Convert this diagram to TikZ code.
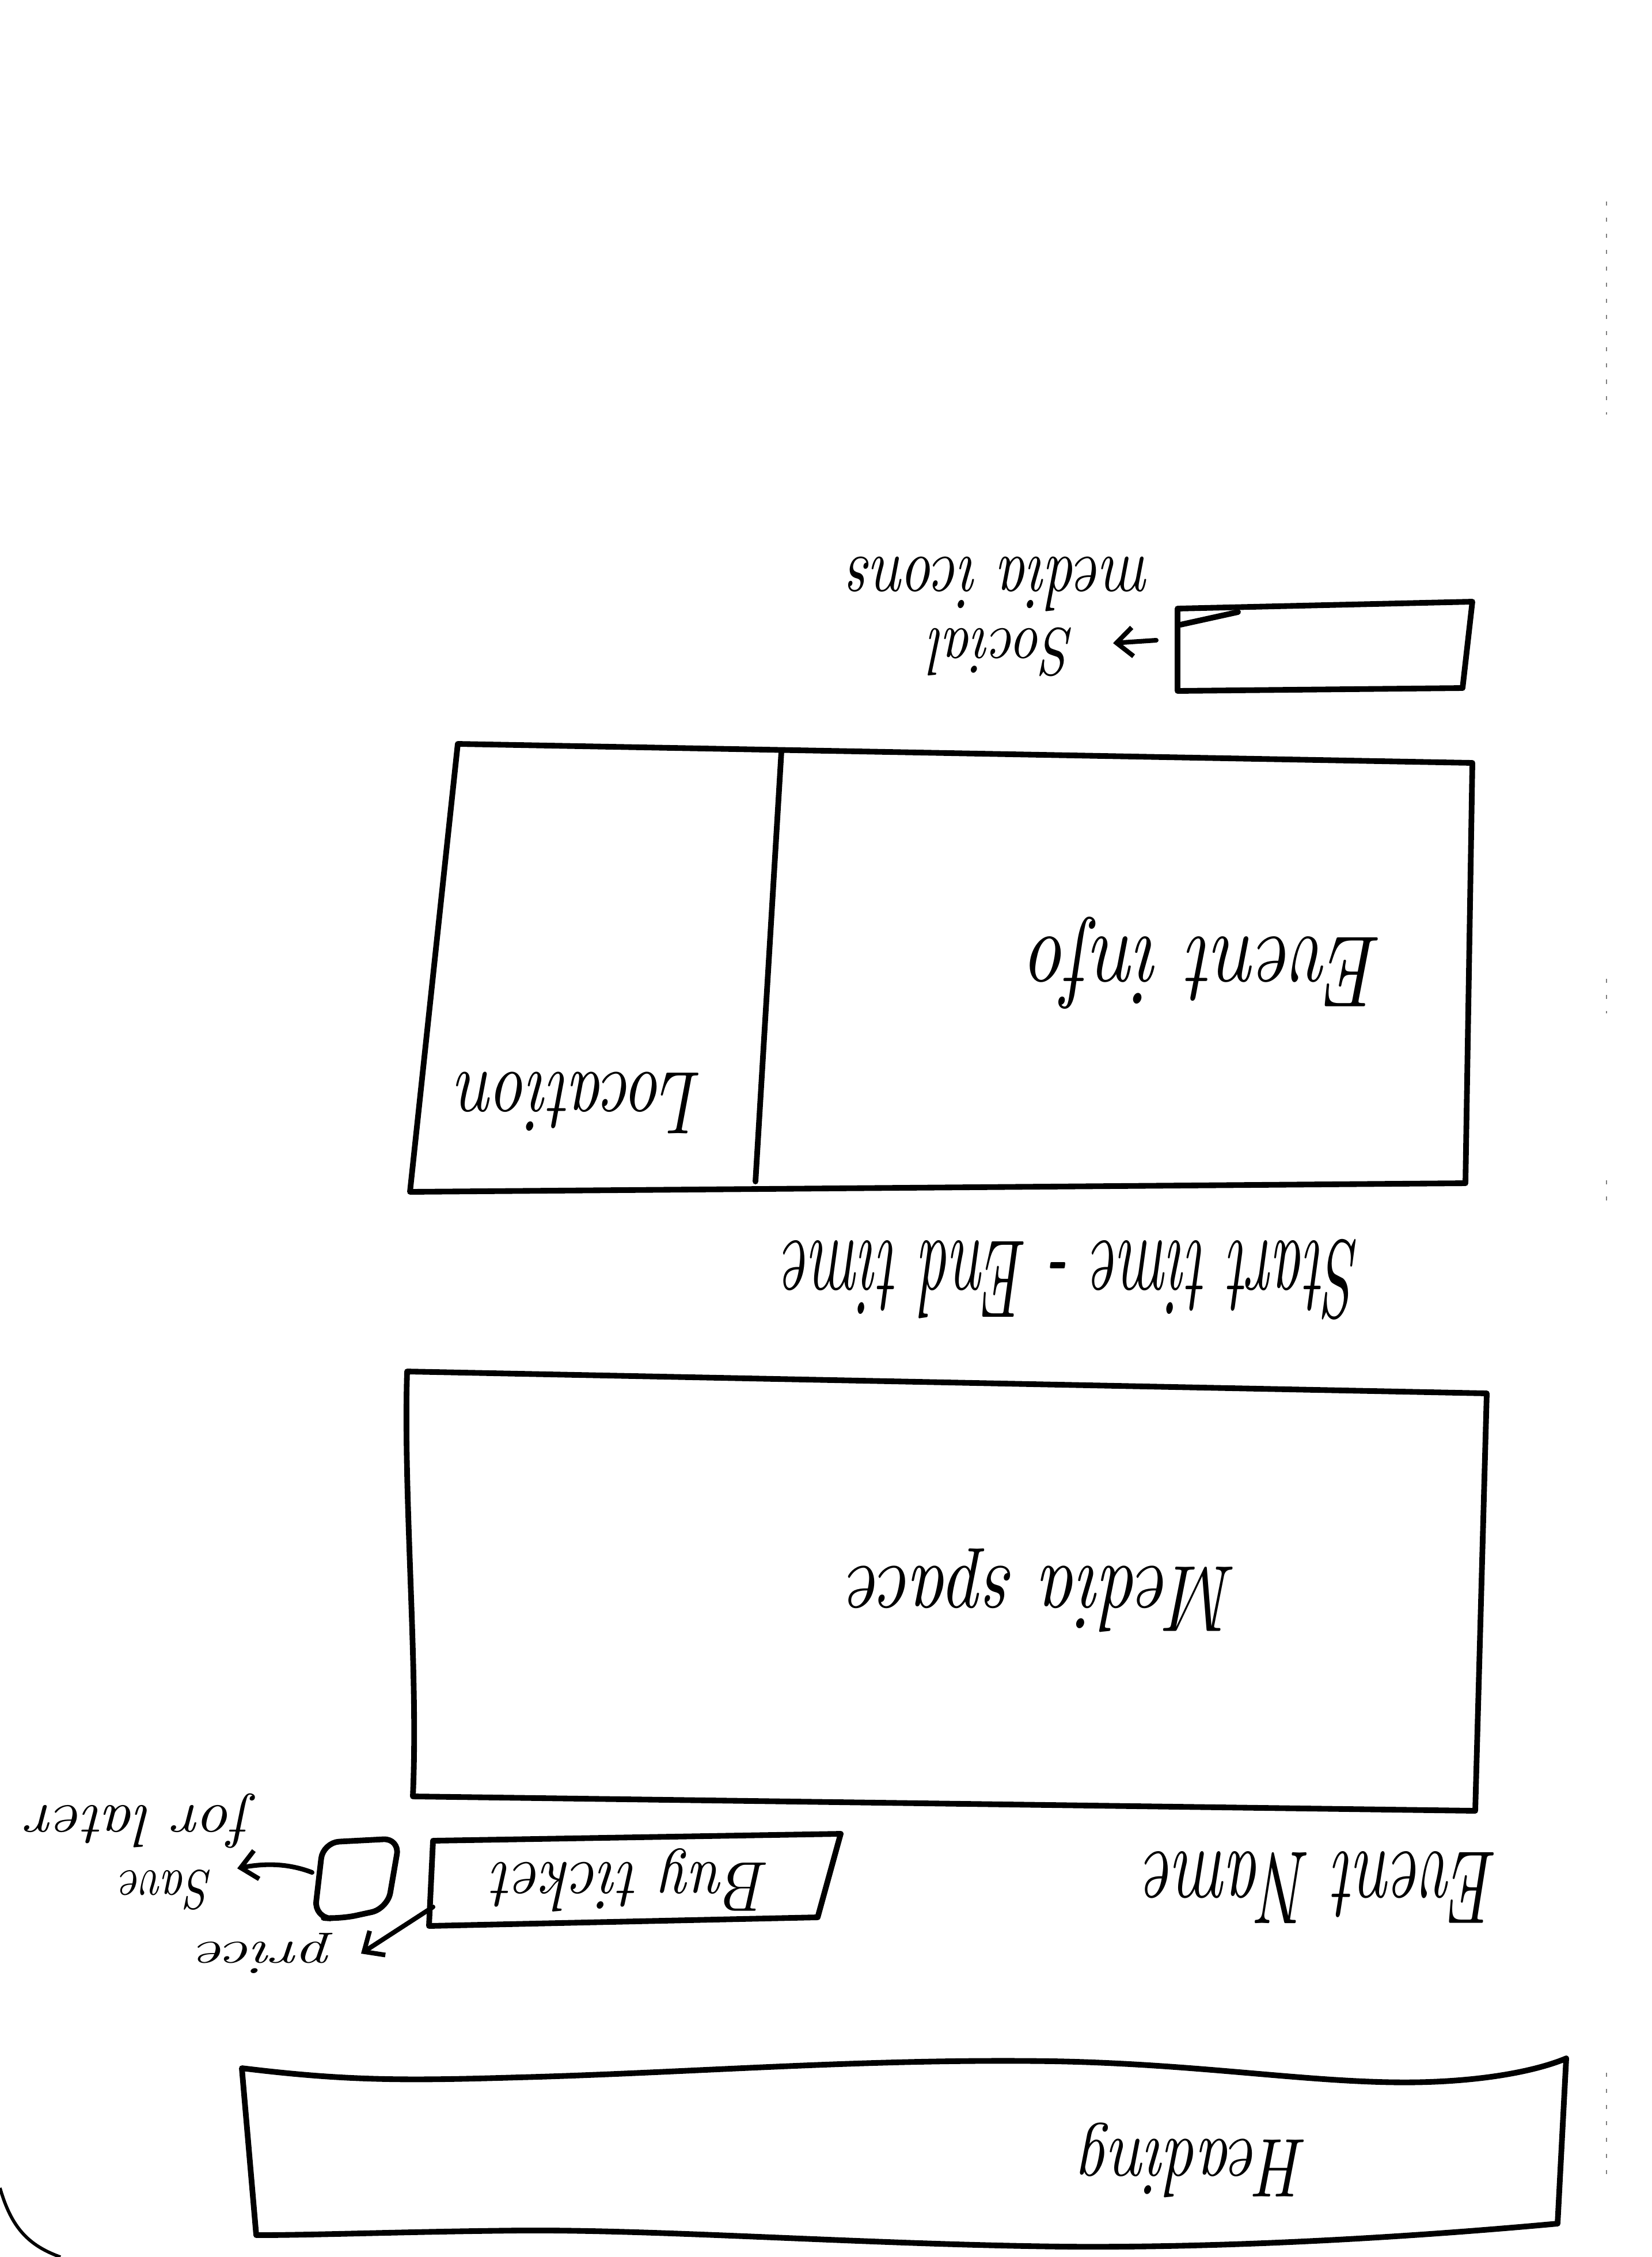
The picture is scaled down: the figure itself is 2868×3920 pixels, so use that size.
\documentclass[tikz,border=0pt]{standalone}
\usetikzlibrary{arrows.meta}
\newcommand\hwtext[3]{\resizebox*{#1}{#2}{\itshape #3}}
\begin{document}
\begin{tikzpicture}[x=0.01cm,y=-0.01cm,
 ink/.style={line width=2.8pt,line cap=round,line join=round},
 pen/.style={line width=2.3pt,line cap=round,line join=round,-{Straight Barb[length=0.28cm,width=0.5cm]}},
 hand/.style={rotate=180,inner sep=0pt},
 faint/.style={line width=0.6pt,gray,dash pattern=on 2pt off 6pt}]
\useasboundingbox[fill=white] (0,0) rectangle (2868,3920);

% page corner and scan marks
\draw[line width=1.6pt] (0,3800) .. controls (20,3870) and (50,3900) .. (105,3920);
\draw[faint] (2790,350) -- (2790,720);
\draw[faint] (2790,1700) -- (2790,1760);
\draw[faint] (2790,2050) -- (2790,2100);
\draw[faint] (2790,3600) -- (2790,3780);

% Heading bar
\coordinate (hTL) at (420,3592);
\coordinate (hTR) at (2720,3575);
\coordinate (hBR) at (2705,3862);
\coordinate (hBL) at (445,3882);
\draw[ink] (hTL) .. controls (600,3614) and (700,3614) .. (900,3608)
  .. controls (1200,3600) and (1500,3575) .. (1830,3580)
  .. controls (2100,3585) and (2300,3622) .. (2480,3616)
  .. controls (2600,3612) and (2680,3592) .. (hTR) -- (hBR)
  .. controls (2400,3890) and (2100,3904) .. (1850,3902)
  .. controls (1500,3898) and (1150,3872) .. (900,3874)
  .. controls (700,3876) and (550,3882) .. (hBL) -- cycle;
\node[hand] (heading) at (2075,3752) {\hwtext{3.92cm}{1.30cm}{Heading}};

% Event name
\node[hand] (evname) at (2295,3278) {\hwtext{6.12cm}{1.25cm}{Event Name}};

% Buy ticket box
\coordinate (bTL) at (752,3197);
\coordinate (bTR) at (1460,3185);
\coordinate (bBR) at (1420,3330);
\coordinate (bBL) at (745,3345);
\draw[ink] (bTL) -- (bTR) -- (bBR) -- (bBL) -- cycle;
\node[hand] (buy) at (1097,3265) {\hwtext{4.8cm}{1.1cm}{Buy ticket}};

% Save square
\coordinate (sTL) at (561,3200);
\coordinate (sTR) at (694,3193);
\coordinate (sBR) at (673,3315);
\coordinate (sBM) at (590,3333);
\coordinate (sBL) at (546,3330);
\draw[ink,rounded corners=8pt] (sTL) -- (sTR) -- (sBR) -- (sBM) -- (sBL) -- cycle;

% Save for later
\coordinate (saveStart) at (542,3252);
\coordinate (saveEnd) at (412,3245);
\draw[pen] (saveStart) .. controls (500,3236) and (460,3236) .. (saveEnd);
\node[hand] (save) at (290,3282) {\hwtext{1.6cm}{0.7cm}{Save}};
\node[hand] (forlater) at (245,3163) {\hwtext{3.9cm}{0.95cm}{for later}};

% price
\coordinate (priceStart) at (752,3312);
\coordinate (priceEnd) at (627,3393);
\draw[pen] (priceStart) -- (priceEnd);
\node[hand] (price) at (462,3392) {\hwtext{2.34cm}{0.7cm}{price}};

% Media space box
\coordinate (mTL) at (707,2382);
\coordinate (mTR) at (2582,2420);
\coordinate (mBR) at (2562,3145);
\coordinate (mBL) at (717,3120);
\draw[ink] (mTL) -- (mTR) -- (mBR) -- (mBL) .. controls (727,2900) and (700,2600) .. (mTL) -- cycle;
\node[hand] (media) at (1812,2762) {\hwtext{6.75cm}{1.45cm}{Media space}};

% Start time - End time
\node[hand] (time) at (1862,2222) {\hwtext{10cm}{1.4cm}{Start time - End time}};

% Event info / Location box
\coordinate (iTL) at (795,1292);
\coordinate (iTR) at (2557,1325);
\coordinate (iBR) at (2545,2055);
\coordinate (iBL) at (712,2070);
\coordinate (dTop) at (1357,1305);
\coordinate (dBot) at (1312,2052);
\draw[ink] (iTL) -- (iTR) -- (iBR) -- (iBL) -- cycle;
\draw[ink] (dTop) -- (dBot);
\node[hand] (info) at (2095,1672) {\hwtext{6.12cm}{1.6cm}{Event info}};
\node[hand] (loc) at (1008,1915) {\hwtext{4.25cm}{1.07cm}{Location}};

% Social media box
\coordinate (cTL) at (2045,1057);
\coordinate (cTR) at (2557,1045);
\coordinate (cBR) at (2540,1195);
\coordinate (cBL) at (2045,1200);
\draw[ink] (cTL) -- (cTR) -- (cBR) -- (cBL) -- cycle;
\draw[ink] (2050,1085) -- (2150,1063);
\coordinate (socStart) at (2008,1112);
\coordinate (socEnd) at (1933,1117);
\draw[pen] (socStart) -- (socEnd);
\node[hand] (social) at (1742,1132) {\hwtext{2.5cm}{0.85cm}{Social}};
\node[hand] (icons) at (1737,1015) {\hwtext{5.25cm}{0.95cm}{media icons}};
\end{tikzpicture}
\end{document}
